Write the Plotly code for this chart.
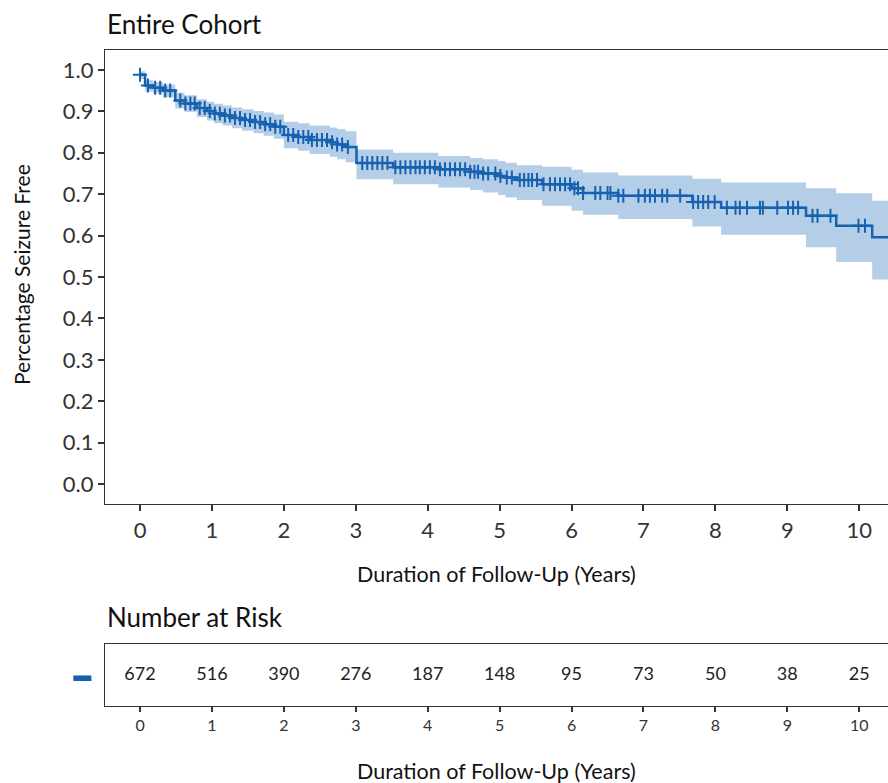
import plotly.graph_objects as go
import numpy as np

# ---- Kaplan-Meier estimate ----
step_time = [0.00, 0.07, 0.18, 0.32, 0.49, 0.62, 0.79, 0.93, 1.03, 1.15, 1.28, 1.42, 1.58, 1.72, 1.86,
             2.00, 2.20, 2.36, 2.64, 2.74, 2.86, 3.01, 3.52, 4.15, 4.59, 4.77, 4.98, 5.08, 5.24, 5.59,
             6.00, 6.16, 6.65, 7.68, 8.08, 9.26, 9.68, 10.18, 10.50]
surv = [0.988, 0.962, 0.957, 0.950, 0.926, 0.919, 0.908, 0.901, 0.895, 0.890, 0.884, 0.879, 0.874, 0.869, 0.863,
        0.843, 0.838, 0.831, 0.825, 0.820, 0.814, 0.775, 0.765, 0.760, 0.754, 0.750, 0.744, 0.740, 0.734, 0.724,
        0.714, 0.703, 0.696, 0.681, 0.667, 0.648, 0.624, 0.596, 0.596]
ci_lower = [0.978, 0.948, 0.943, 0.934, 0.907, 0.899, 0.886, 0.878, 0.871, 0.866, 0.859, 0.853, 0.847, 0.841, 0.834,
            0.811, 0.805, 0.797, 0.790, 0.784, 0.777, 0.736, 0.724, 0.716, 0.710, 0.704, 0.698, 0.692, 0.686, 0.672,
            0.660, 0.650, 0.640, 0.622, 0.602, 0.572, 0.536, 0.494, 0.494]
ci_upper = [0.997, 0.975, 0.971, 0.965, 0.945, 0.939, 0.929, 0.923, 0.918, 0.914, 0.909, 0.905, 0.901, 0.897, 0.892,
            0.875, 0.871, 0.866, 0.861, 0.857, 0.852, 0.808, 0.800, 0.792, 0.787, 0.784, 0.780, 0.776, 0.770, 0.766,
            0.759, 0.752, 0.745, 0.737, 0.728, 0.714, 0.702, 0.684, 0.684]

# censoring times (years)
censor_time = [0.00, 0.11, 0.21, 0.28, 0.35, 0.42, 0.56, 0.63, 0.70, 0.76, 0.83, 0.90, 0.97, 1.04, 1.11, 1.18,
               1.25, 1.32, 1.39, 1.46, 1.53, 1.60, 1.67, 1.74, 1.81, 1.88, 1.95,
               2.06, 2.13, 2.20, 2.27, 2.34, 2.39, 2.46, 2.53, 2.60, 2.67, 2.74, 2.81, 2.89,
               3.09, 3.16, 3.23, 3.30, 3.37, 3.44, 3.55, 3.62, 3.69, 3.76, 3.83, 3.89, 3.96, 4.03, 4.10,
               4.17, 4.24, 4.31, 4.38, 4.45, 4.52, 4.59, 4.65, 4.70, 4.77, 4.84, 4.94, 5.01, 5.10, 5.17,
               5.28, 5.34, 5.40, 5.45, 5.52, 5.61, 5.70, 5.77, 5.84, 5.91, 5.98, 6.04, 6.09, 6.16,
               6.33, 6.40, 6.50, 6.54, 6.65, 6.72, 6.93, 7.02, 7.09, 7.16, 7.26, 7.33, 7.51,
               7.69, 7.76, 7.83, 7.90, 7.99, 8.16, 8.28, 8.34, 8.44, 8.62, 8.66, 8.86, 9.01, 9.08, 9.15,
               9.35, 9.42, 9.60, 9.99, 10.08]

# number at risk table
risk_time = [0, 1, 2, 3, 4, 5, 6, 7, 8, 9, 10]
risk_n = [672, 516, 390, 276, 187, 148, 95, 73, 50, 38, 25]

x_ticks = [0, 1, 2, 3, 4, 5, 6, 7, 8, 9, 10]
y_ticks = [0.0, 0.1, 0.2, 0.3, 0.4, 0.5, 0.6, 0.7, 0.8, 0.9, 1.0]

LINE = "#1661B0"
BAND = "#B5CEE8"
FONT = "Lato"
AX = "#333333"

# survival value at each censor time (step lookup)
st = np.array(step_time)
censor_surv = [surv[int(np.searchsorted(st, t, side="right") - 1)] for t in censor_time]

fig = go.Figure()
fig.add_trace(go.Scatter(x=step_time, y=ci_upper, mode="lines", line=dict(width=0, shape="hv"),
                         showlegend=False, hoverinfo="skip"))
fig.add_trace(go.Scatter(x=step_time, y=ci_lower, mode="lines", line=dict(width=0, shape="hv"),
                         fill="tonexty", fillcolor=BAND, showlegend=False, hoverinfo="skip"))
fig.add_trace(go.Scatter(x=step_time, y=surv, mode="lines", line=dict(color=LINE, width=2.5, shape="hv"),
                         showlegend=False))
fig.add_trace(go.Scatter(x=censor_time, y=censor_surv, mode="markers",
                         marker=dict(symbol="cross-thin", size=10, line=dict(color=LINE, width=2)),
                         showlegend=False))
fig.add_trace(go.Scatter(x=risk_time, y=[0] * len(risk_time), mode="text",
                         text=[str(v) for v in risk_n], textfont=dict(family=FONT, size=18, color="#222222"),
                         xaxis="x2", yaxis="y2", showlegend=False))

H = 783.0
xr = [-0.487, 10.40]
fig.update_layout(
    width=888, height=783,
    margin=dict(l=105, r=0, t=0, b=0),
    paper_bgcolor="white", plot_bgcolor="white",
    font=dict(family=FONT, color=AX),
    xaxis=dict(domain=[0, 1], range=xr, tickvals=x_ticks, ticks="outside", ticklen=6, tickwidth=1.5,
               tickcolor=AX, showline=True, linecolor=AX, linewidth=1.3, mirror=True, showgrid=False,
               zeroline=False, tickfont=dict(size=22, color="#333333"), anchor="y"),
    yaxis=dict(domain=[1 - 504 / H, 1 - 50 / H], range=[-0.048, 1.048], tickvals=y_ticks,
               tickformat=".1f", ticks="outside", ticklen=6, tickwidth=1.5, tickcolor=AX,
               showline=True, linecolor=AX, linewidth=1.3, showgrid=False, zeroline=False,
               tickfont=dict(size=22, color="#333333"), anchor="x"),
    xaxis2=dict(domain=[0, 1], range=xr, tickvals=x_ticks, ticks="outside", ticklen=5, tickwidth=1.5,
                tickcolor=AX, showline=True, linecolor=AX, linewidth=1.3, mirror=True, showgrid=False,
                zeroline=False, tickfont=dict(size=16, color="#333333"), anchor="y2"),
    yaxis2=dict(domain=[1 - 706 / H, 1 - 644 / H], range=[-1, 1], tickvals=[0], ticktext=["▬"],
                ticks="", showline=True, linecolor=AX, linewidth=1.3, showgrid=False, zeroline=False,
                tickfont=dict(size=18, color=LINE), ticklabelstandoff=9, anchor="x2"),
)

annotations = [
    dict(text="Entire Cohort", x=0, y=1 - 24 / H, xref="paper", yref="paper", xanchor="left",
         yanchor="middle", showarrow=False, font=dict(size=26, color="#111111")),
    dict(text="Percentage Seizure Free", x=(22 - 105) / 783.0, y=1 - 275 / H, xref="paper", yref="paper",
         xanchor="center", yanchor="middle", textangle=-90, showarrow=False,
         font=dict(size=21, color="#111111")),
    dict(text="Duration of Follow-Up (Years)", x=0.5, y=1 - 574 / H, xref="paper", yref="paper",
         xanchor="center", yanchor="middle", showarrow=False, font=dict(size=21.5, color="#111111")),
    dict(text="Number at Risk", x=0, y=1 - 617 / H, xref="paper", yref="paper", xanchor="left",
         yanchor="middle", showarrow=False, font=dict(size=26, color="#111111")),
    dict(text="Duration of Follow-Up (Years)", x=0.5, y=1 - 771 / H, xref="paper", yref="paper",
         xanchor="center", yanchor="middle", showarrow=False, font=dict(size=21.5, color="#111111")),
]
fig.update_layout(annotations=annotations)

fig.write_html("out.html", config={"displayModeBar": False},
               post_script="document.body.style.margin='0';document.body.style.overflow='hidden';")
